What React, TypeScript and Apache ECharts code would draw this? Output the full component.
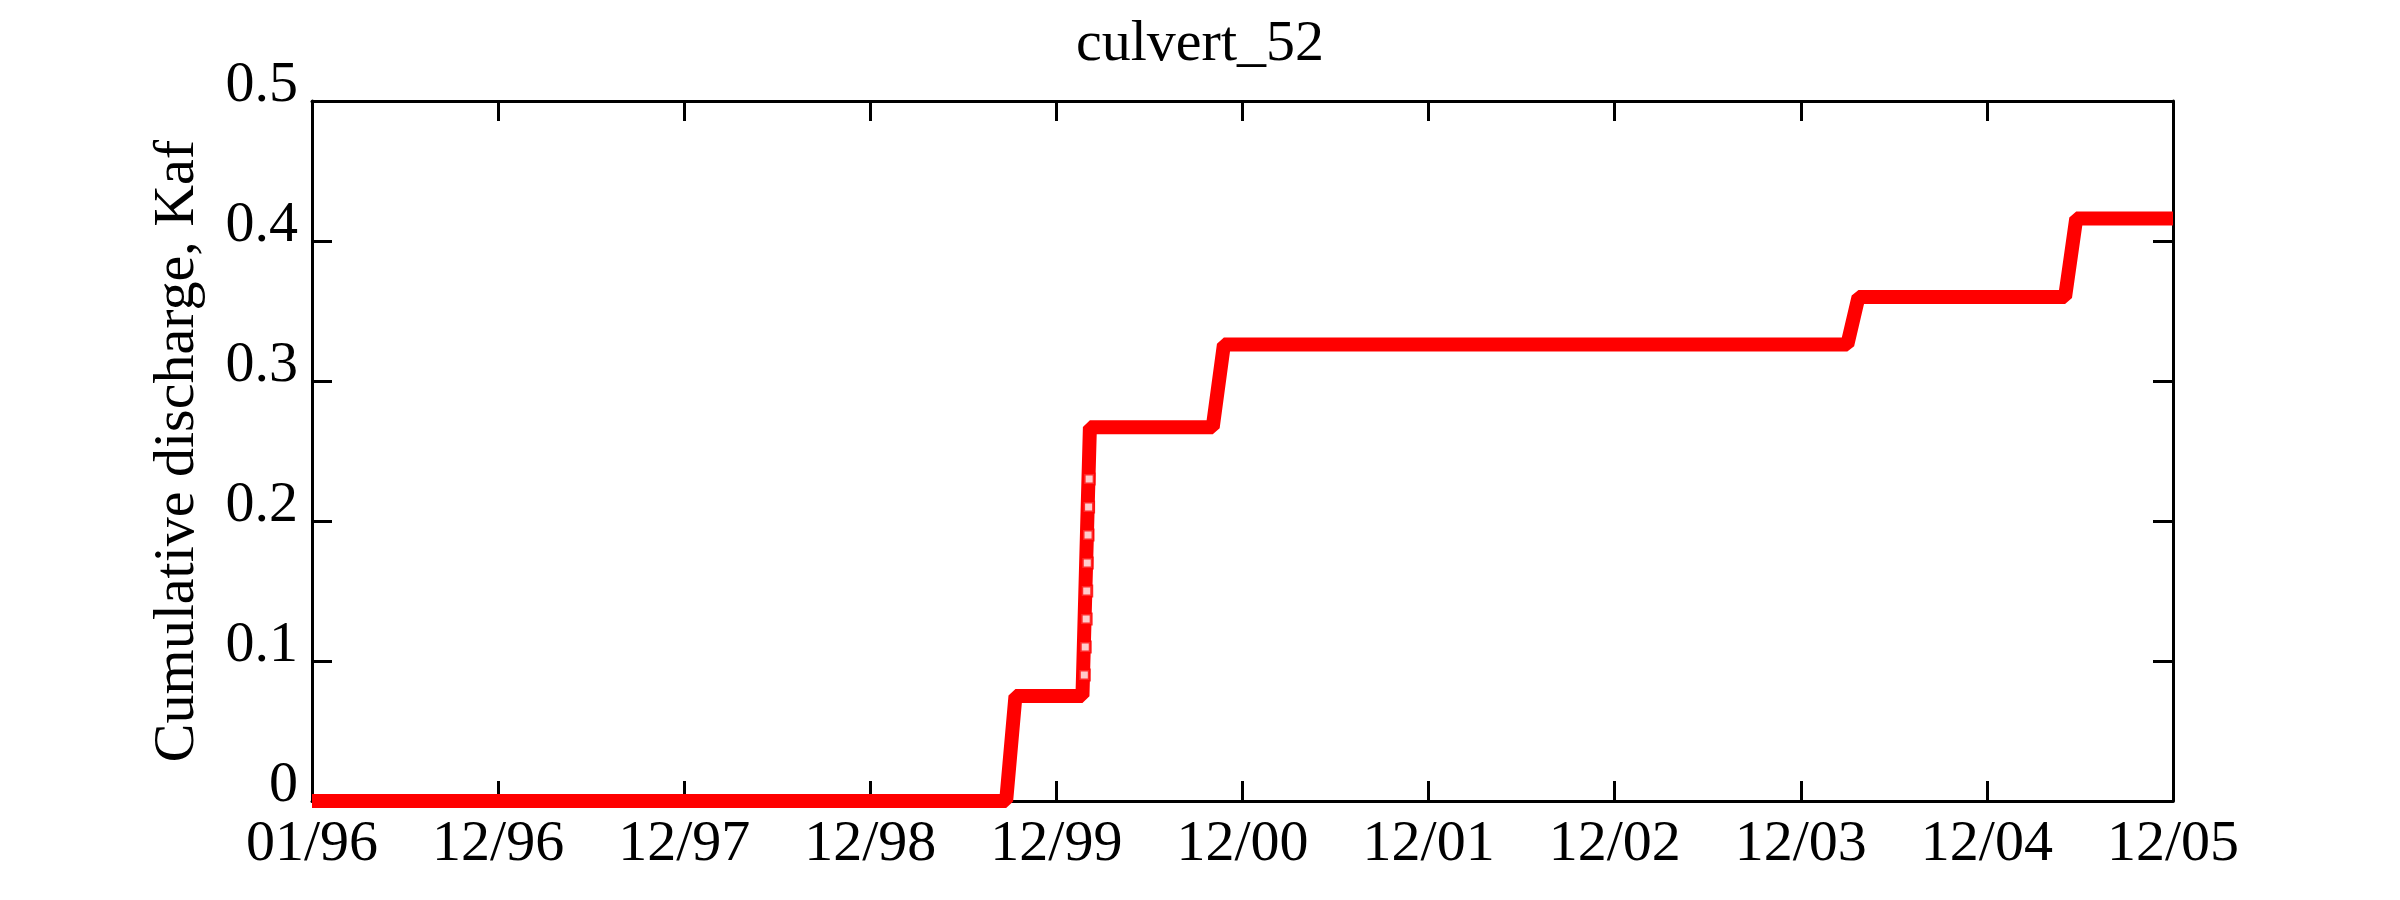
import { useRef, useEffect } from 'react'
import * as echarts from 'echarts'

// x in years since 01/96 (tick i = label i)
const tickLabels = ['01/96', '12/96', '12/97', '12/98', '12/99', '12/00', '12/01', '12/02', '12/03', '12/04', '12/05']
const stepX = [0, 3.73, 3.78, 4.14, 4.18, 4.84, 4.9, 8.25, 8.31, 9.42, 9.48, 10]
const stepY = [0, 0, 0.075, 0.075, 0.267, 0.267, 0.326, 0.326, 0.36, 0.36, 0.416, 0.416]
// hollow marker samples along the steep rise in 12/99
const riseX = [4.15, 4.155, 4.16, 4.163, 4.166, 4.17, 4.173, 4.176]
const riseY = [0.09, 0.11, 0.13, 0.15, 0.17, 0.19, 0.21, 0.23]

const font = '"Liberation Serif", "DejaVu Serif", serif'

export default function App() {
  const ref = useRef<HTMLDivElement>(null)

  useEffect(() => {
    document.body.style.margin = '0'
    if (!ref.current) return
    const chart = echarts.init(ref.current, undefined, { renderer: 'svg' })
    const axisLine = { show: true, onZero: false, lineStyle: { color: '#000', width: 3 } }
    const tick = { show: true, inside: true, length: 20, lineStyle: { color: '#000', width: 3 } }
    chart.setOption({
      animation: false,
      backgroundColor: '#fff',
      title: {
        text: 'culvert_52',
        left: 'center',
        top: 6,
        textStyle: { fontFamily: font, fontSize: 58, fontWeight: 'normal', color: '#000' },
      },
      grid: { left: 312, right: 227, top: 101, bottom: 99 },
      xAxis: [
        {
          type: 'value', min: 0, max: 10, interval: 1,
          axisLine, axisTick: tick, splitLine: { show: false },
          axisLabel: {
            color: '#000', fontFamily: font, fontSize: 58, margin: 10,
            formatter: (v: number) => tickLabels[Math.round(v)] ?? '',
          },
        },
        {
          type: 'value', min: 0, max: 10, interval: 1, position: 'top',
          axisLine, axisTick: tick, splitLine: { show: false }, axisLabel: { show: false },
        },
      ],
      yAxis: [
        {
          type: 'value', min: 0, max: 0.5, interval: 0.1,
          name: 'Cumulative discharge, Kaf', nameLocation: 'middle', nameGap: 110,
          nameTextStyle: { color: '#000', fontFamily: font, fontSize: 58 },
          axisLine, axisTick: tick, splitLine: { show: false },
          axisLabel: {
            color: '#000', fontFamily: font, fontSize: 58, margin: 14,
            verticalAlign: 'bottom', lineHeight: 40,
            formatter: (v: number) => (v === 0 ? '0' : v.toFixed(1)),
          },
        },
        {
          type: 'value', min: 0, max: 0.5, interval: 0.1, position: 'right',
          axisLine, axisTick: tick, splitLine: { show: false }, axisLabel: { show: false },
        },
      ],
      series: [
        {
          type: 'line',
          data: stepX.map((x, i) => [x, stepY[i]]),
          showSymbol: false,
          lineStyle: { color: '#ff0000', width: 14 },
          z: 3,
        },
        {
          type: 'scatter',
          data: riseX.map((x, i) => [x, riseY[i]]),
          symbol: 'rect',
          symbolSize: 10,
          itemStyle: { color: '#fff', borderColor: '#ff0000', borderWidth: 3 },
          z: 4,
        },
      ],
    })
    return () => chart.dispose()
  }, [])

  return <div ref={ref} style={{ width: 2400, height: 900 }} />
}
